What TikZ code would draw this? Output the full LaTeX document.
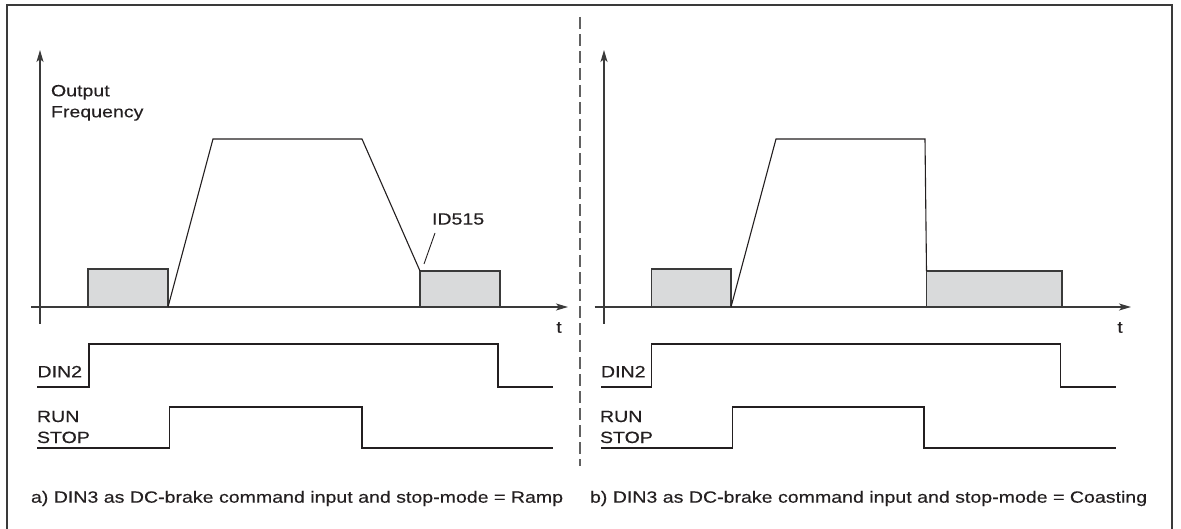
\documentclass[tikz,border=0pt]{standalone}
\usepackage{fontspec}
\setmainfont{Liberation Sans}[FakeStretch=1.2,FakeBold=0.3]
\usetikzlibrary{arrows.meta}
\definecolor{boxgray}{HTML}{D9DADB}
\definecolor{ink}{HTML}{231F20}
\definecolor{axisc}{HTML}{3A3A3A}
\begin{document}
\begin{tikzpicture}[x=1pt,y=-1pt,
  lbl/.style={inner sep=0pt,outer sep=0pt,text=ink,font=\fontsize{16.3}{21}\selectfont},
  axisline/.style={draw=axisc,line width=1.4pt},
  axisarrow/.style={axisline,-{Stealth[length=12pt,width=7pt,inset=3pt]}},
  brake/.style={draw=axisc,line width=1.4pt,fill=boxgray},
  sig/.style={draw=ink,line width=1.1pt,line join=miter},
  frame/.style={draw=axisc,line width=1.7pt},
  divider/.style={draw=axisc!80,line width=1.2pt,dash pattern=on 12pt off 5pt}]
\useasboundingbox (0,0) rectangle (1181,529);
% frame (bottom edge lies outside the picture)
\draw[frame] (7,535) -- (7,5) -- (1172,5) -- (1172,535);
% divider
\draw[divider] (580,17) -- (580,466);

% ---------------- panel a ----------------
\fill[boxgray] (88,269) rectangle (168,307);
\fill[boxgray] (420,271) rectangle (500,307);
\draw[brake] (88,307) -- (88,269) -- (168,269) -- (168,307);
\draw[brake] (420,307) -- (420,271) -- (500,271) -- (500,307);
\draw[axisline] (40,324) -- (40,60);
\draw[axisarrow] (40,70) -- (40,50);
\draw[axisline] (31,307) -- (560,307);
\draw[axisarrow] (550,307) -- (568,307);
\draw[sig] (168,307) -- (213,139) -- (362,139) -- (420,271);
\node[lbl,anchor=base west] (ofa) at (51,96.3) {Output};
\node[lbl,anchor=base west] (ofb) at (51,117.3) {Frequency};
\node[lbl,anchor=base west] (id) at (432,224.6) {ID515};
\coordinate (idtip) at (424,264);
\draw[sig,line width=0.9pt] (435,233) -- (idtip);
\node[lbl,anchor=base] (ta) at (559,332.7) {t};
\draw[sig] (37,387) -- (89,387) -- (89,344) -- (498,344) -- (498,387) -- (553,387);
\node[lbl,anchor=base west] (dina) at (37.5,377.3) {DIN2};
\draw[sig] (37,448) -- (169.5,448) -- (169.5,407) -- (362,407) -- (362,448) -- (553,448);
\node[lbl,anchor=base west] (runa) at (37,422) {RUN};
\node[lbl,anchor=base west] (stopa) at (37,443) {STOP};
\node[lbl,anchor=base west] (capa) at (31,502.7) {a) DIN3 as DC-brake command input and stop-mode = Ramp};

% ---------------- panel b ----------------
\fill[boxgray] (651.6,269) rectangle (731,307);
\fill[boxgray] (926.5,271) rectangle (1062,307);
\draw[brake] (651.6,307) -- (651.6,269) -- (731,269) -- (731,307);
\draw[brake] (926.5,307) -- (926.5,271) -- (1062,271) -- (1062,307);
\draw[axisline] (604,324) -- (604,60);
\draw[axisarrow] (604,70) -- (604,50);
\draw[axisline] (594.5,307) -- (1123,307);
\draw[axisarrow] (1113,307) -- (1131,307);
\draw[sig] (731,307) -- (776,139) -- (925,139) -- (926.5,271);
\node[lbl,anchor=base] (tb) at (1120,332.7) {t};
\draw[sig] (601,387) -- (651.6,387) -- (651.6,344) -- (1060.7,344) -- (1060.7,387) -- (1116,387);
\node[lbl,anchor=base west] (dinb) at (601,377.3) {DIN2};
\draw[sig] (601,448) -- (732.3,448) -- (732.3,407) -- (924,407) -- (924,448) -- (1116,448);
\node[lbl,anchor=base west] (runb) at (600,422) {RUN};
\node[lbl,anchor=base west] (stopb) at (600,443) {STOP};
\node[lbl,anchor=base west] (capb) at (590,502.7) {b) DIN3 as DC-brake command input and stop-mode = Coasting};
\end{tikzpicture}
\end{document}
